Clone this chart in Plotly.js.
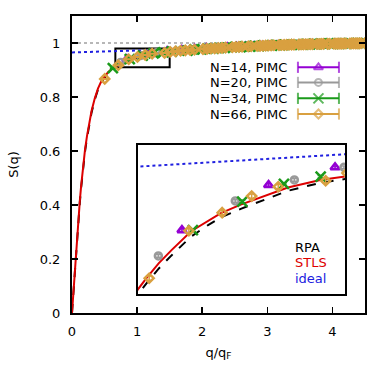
<!DOCTYPE html>
<html>
<head>
<meta charset="utf-8">
<script src="https://cdn.plot.ly/plotly-3.0.1.min.js"></script>
<style>html,body{margin:0;padding:0;background:#fff;}#chart{width:390px;height:379px;}</style>
</head>
<body>
<div id="chart"></div>
<script>
// ---------- theory curves ----------
const qTheory = [0, 0.02, 0.04, 0.06, 0.08, 0.10, 0.12, 0.14, 0.16, 0.18, 0.20, 0.23, 0.26, 0.30, 0.35, 0.40, 0.45, 0.50, 0.55, 0.60, 0.65, 0.70, 0.75, 0.80, 0.88, 0.95, 1.00, 1.08, 1.15, 1.27, 1.40, 1.50, 1.70, 2.00, 2.50, 3.00, 3.50, 4.00, 4.50];
const sSTLS = [0, 0.075, 0.15, 0.22, 0.29, 0.355, 0.415, 0.47, 0.52, 0.565, 0.605, 0.655, 0.70, 0.748, 0.795, 0.832, 0.858, 0.876, 0.891, 0.902, 0.910, 0.9175, 0.9245, 0.9305, 0.9395, 0.9445, 0.948, 0.952, 0.955, 0.960, 0.9635, 0.9655, 0.970, 0.977, 0.986, 0.991, 0.995, 0.997, 0.998];
const sRPA  = [0, 0.074, 0.148, 0.217, 0.286, 0.350, 0.409, 0.463, 0.513, 0.558, 0.598, 0.648, 0.693, 0.742, 0.790, 0.828, 0.854, 0.872, 0.888, 0.899, 0.9075, 0.915, 0.922, 0.928, 0.937, 0.9425, 0.946, 0.950, 0.9532, 0.9585, 0.9622, 0.9643, 0.969, 0.976, 0.9855, 0.9907, 0.9948, 0.9969, 0.998];
const qIdeal = [0, 0.66, 1.0, 1.5, 2.0, 3.0, 4.5];
const sIdeal = [0.9652, 0.9698, 0.9722, 0.9756, 0.979, 0.986, 0.9965];
const qOne = [0, 4.5];
const sOne = [1, 1];

// ---------- PIMC data ----------
const q14 = [0.843, 1.192, 1.460, 1.686, 1.885, 2.064, 2.384, 2.528, 2.665, 2.795, 2.920, 3.039, 3.154, 3.371, 3.475, 3.576, 3.674, 3.769, 3.862, 3.953, 4.128, 4.214, 4.298, 4.381];
const s14 = [0.9400, 0.9612, 0.9695, 0.9740, 0.9775, 0.9800, 0.9840, 0.9855, 0.9868, 0.9880, 0.9891, 0.9900, 0.9909, 0.9924, 0.9931, 0.9937, 0.9943, 0.9948, 0.9953, 0.9957, 0.9965, 0.9968, 0.9971, 0.9974];

const q20 = [0.748, 1.058, 1.296, 1.496, 1.673, 1.833, 2.116, 2.245, 2.366, 2.481, 2.592, 2.698, 2.800, 2.993, 3.085, 3.174, 3.261, 3.346, 3.429, 3.509, 3.665, 3.741, 3.815, 3.888, 4.029, 4.098, 4.232, 4.298, 4.363, 4.426, 4.489];
const s20 = [0.9279, 0.9537, 0.9636, 0.9695, 0.9725, 0.9752, 0.9792, 0.9810, 0.9826, 0.9840, 0.9853, 0.9866, 0.9877, 0.9897, 0.9906, 0.9914, 0.9922, 0.9929, 0.9936, 0.9942, 0.9953, 0.9958, 0.9962, 0.9966, 0.9972, 0.9975, 0.9980, 0.9982, 0.9984, 0.9986, 0.9988];

const q34 = [0.627, 0.887, 1.086, 1.254, 1.402, 1.536, 1.773, 1.881, 1.983, 2.080, 2.172, 2.261, 2.346, 2.508, 2.585, 2.660, 2.733, 2.804, 2.873, 2.941, 3.072, 3.135, 3.197, 3.258, 3.377, 3.434, 3.547, 3.602, 3.656, 3.709, 3.762, 3.814, 3.865, 3.966, 4.015, 4.063, 4.111, 4.159, 4.206, 4.253, 4.344, 4.389, 4.434, 4.478];
const s34 = [0.907, 0.940, 0.9534, 0.9617, 0.9651, 0.9685, 0.9722, 0.9760, 0.9762, 0.9795, 0.9790, 0.9823, 0.9818, 0.9855, 0.9848, 0.9878, 0.9866, 0.9895, 0.9884, 0.9910, 0.9905, 0.9928, 0.9914, 0.9940, 0.9930, 0.9952, 0.9940, 0.9962, 0.9948, 0.9968, 0.9955, 0.9975, 0.9960, 0.9982, 0.9968, 0.9987, 0.9972, 0.9990, 0.9976, 0.9993, 0.9980, 0.9995, 0.9983, 0.9997];

const q66 = [0.503, 0.711, 0.871, 1.005, 1.124, 1.231, 1.422, 1.508, 1.590, 1.667, 1.741, 1.813, 1.881, 2.011, 2.073, 2.133, 2.191, 2.248, 2.304, 2.358, 2.463, 2.514, 2.563, 2.612, 2.707, 2.753, 2.844, 2.888, 2.931, 2.974, 3.016, 3.058, 3.099, 3.179, 3.219, 3.258, 3.296, 3.335, 3.372, 3.409, 3.483, 3.519, 3.555, 3.590, 3.625, 3.660, 3.694, 3.762, 3.795, 3.828, 3.861, 3.926, 3.958, 4.022, 4.053, 4.084, 4.115, 4.145, 4.176, 4.206, 4.266, 4.295, 4.324, 4.354, 4.382, 4.411, 4.440, 4.496];
const s66 = [0.867, 0.9174, 0.9397, 0.9482, 0.9560, 0.9604, 0.9632, 0.9668, 0.9690, 0.9712, 0.9728, 0.9741, 0.9752, 0.9775, 0.9782, 0.9795, 0.9801, 0.9812, 0.9818, 0.9829, 0.9842, 0.9851, 0.9856, 0.9864, 0.9873, 0.9880, 0.9889, 0.9893, 0.9898, 0.9904, 0.9907, 0.9912, 0.9915, 0.9922, 0.9926, 0.9929, 0.9932, 0.9936, 0.9938, 0.9941, 0.9946, 0.9948, 0.9951, 0.9953, 0.9955, 0.9957, 0.9959, 0.9962, 0.9964, 0.9966, 0.9967, 0.9970, 0.9971, 0.9974, 0.9975, 0.9977, 0.9978, 0.9979, 0.9980, 0.9981, 0.9983, 0.9984, 0.9985, 0.9986, 0.9987, 0.9988, 0.9989, 0.9990];

const seriesNames = ['N=14, PIMC', 'N=20, PIMC', 'N=34, PIMC', 'N=66, PIMC'];
const xTicks = [0, 1, 2, 3, 4];
const yTicks = [0, 0.2, 0.4, 0.6, 0.8, 1];
const yTickText = ['0', '0.2', '0.4', '0.6', '0.8', '1'];

// ---------- styles ----------
const FONT = 'DejaVu Sans, Liberation Sans, sans-serif';
const styles = [
  {color: '#9400d3', symbol: 'triangle-up-open', size: 8, err: 0.0006},
  {color: '#999999', symbol: 'circle-open', size: 7, err: 0.0006},
  {color: '#1a9a1a', symbol: 'x-thin-open', size: 10, err: 0.0006},
  {color: '#d9a040', symbol: 'diamond-open', size: 7, err: 0.001}
];
const seriesQ = [q14, q20, q34, q66];
const seriesS = [s14, s20, s34, s66];
const insetX = [0.666, 1.5];
const insetY = [0.91, 0.98];

const traces = [];
function theory(xa, ya) {
  traces.push({x: qOne, y: sOne, xaxis: xa, yaxis: ya, mode: 'lines', line: {color: '#a0a0a0', width: 1.5, dash: 'dot'}});
  traces.push({x: qIdeal, y: sIdeal, xaxis: xa, yaxis: ya, mode: 'lines', line: {color: '#2020e0', width: 2, dash: 'dot'}});
  traces.push({x: qTheory, y: sRPA, xaxis: xa, yaxis: ya, mode: 'lines', line: {color: '#000000', width: 2, dash: 'dash'}});
  traces.push({x: qTheory, y: sSTLS, xaxis: xa, yaxis: ya, mode: 'lines', line: {color: '#dd0000', width: 2}});
}
function points(xa, ya) {
  for (let i = 0; i < 4; i++) {
    const st = styles[i];
    traces.push({
      x: seriesQ[i], y: seriesS[i], xaxis: xa, yaxis: ya, mode: 'markers',
      marker: {symbol: st.symbol, size: st.size, color: st.color, line: {color: st.color, width: 2.5}},
      error_y: {type: 'constant', value: st.err, color: st.color, thickness: 1.5, width: 3}
    });
  }
}
theory('x', 'y');
points('x', 'y');
theory('x2', 'y2');
points('x2', 'y2');

// legend samples (drawn in main-axis coordinates)
const legX = [3.47, 3.785, 4.10];
const legRows = [0.910, 0.854, 0.795, 0.737];
const annotations = [];
for (let i = 0; i < 4; i++) {
  const st = styles[i];
  traces.push({
    x: legX, y: [legRows[i], legRows[i], legRows[i]], xaxis: 'x', yaxis: 'y',
    mode: 'lines+markers', line: {color: st.color, width: 2},
    marker: {symbol: ['line-ns', st.symbol, 'line-ns'], size: [8, st.size, 8], color: st.color, line: {color: st.color, width: 2}}
  });
  annotations.push({xref: 'x', yref: 'y', x: 3.337, y: legRows[i], text: seriesNames[i], showarrow: false, xanchor: 'right', yanchor: 'middle', font: {family: FONT, size: 13, color: '#000'}});
}
const insetLabels = [['RPA', '#000000', 0.932], ['STLS', '#dd0000', 0.9246], ['ideal', '#2020e0', 0.9175]];
insetLabels.forEach(l => annotations.push({xref: 'x2', yref: 'y2', x: 1.29, y: l[2], text: l[0], showarrow: false, xanchor: 'left', yanchor: 'middle', font: {family: FONT, size: 13, color: l[1]}}));

const baseAxis = {showgrid: false, zeroline: false, showline: true, linecolor: '#000', linewidth: 2, mirror: 'ticks', ticks: 'inside', ticklen: 6, tickwidth: 1.5, tickcolor: '#000', tickfont: {family: FONT, size: 13, color: '#000'}};

const layout = {
  width: 390, height: 379,
  margin: {l: 72, r: 25, t: 16, b: 66, pad: 0},
  paper_bgcolor: '#fff', plot_bgcolor: 'rgba(0,0,0,0)',
  showlegend: false,
  font: {family: FONT, size: 13, color: '#000'},
  xaxis: Object.assign({}, baseAxis, {range: [0, 4.5], tickvals: xTicks, ticktext: xTicks.map(String), ticklabelstandoff: 5,
    title: {text: 'q/q<sub>F</sub>', font: {family: FONT, size: 13}, standoff: 10}, domain: [0, 1], anchor: 'y'}),
  yaxis: Object.assign({}, baseAxis, {range: [0, 1.1], tickvals: yTicks, ticktext: yTickText, ticklabelstandoff: 7,
    title: {text: 'S(q)', font: {family: FONT, size: 13}, standoff: 18}, domain: [0, 1], anchor: 'x'}),
  xaxis2: {domain: [0.2253, 0.9317], anchor: 'y2', range: insetX, showgrid: false, zeroline: false, showline: true, mirror: true, linecolor: '#000', linewidth: 2, ticks: '', showticklabels: false},
  yaxis2: {domain: [0.064, 0.5657], anchor: 'x2', range: insetY, showgrid: false, zeroline: false, showline: true, mirror: true, linecolor: '#000', linewidth: 2, ticks: '', showticklabels: false},
  shapes: [{type: 'rect', xref: 'x', yref: 'y', x0: insetX[0], x1: insetX[1], y0: insetY[0], y1: insetY[1], line: {color: '#000', width: 2}, layer: 'below'}],
  annotations: annotations
};

Plotly.newPlot('chart', traces, layout, {staticPlot: true, displayModeBar: false});
</script>
</body>
</html>
